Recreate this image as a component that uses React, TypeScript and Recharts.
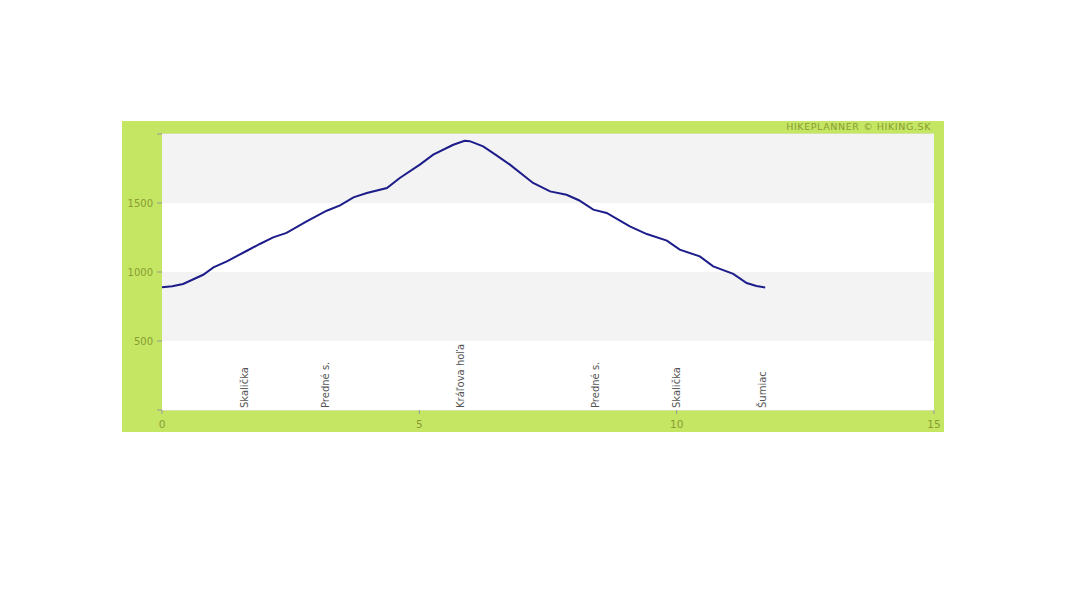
import React from "react";
import {
  LineChart,
  Line,
  XAxis,
  YAxis,
  CartesianGrid,
  ReferenceArea,
  ReferenceLine,
} from "recharts";

// distance along the route (km) and elevation (m)
const distanceKm = [
  0, 0.2, 0.41, 0.8, 1.0, 1.26, 1.65, 1.9, 2.16, 2.42, 2.81, 3.2, 3.46, 3.72,
  3.98, 4.37, 4.62, 5.01, 5.27, 5.66, 5.88, 5.98, 6.24, 6.5, 6.76, 7.21, 7.54,
  7.86, 8.1, 8.38, 8.64, 9.09, 9.42, 9.81, 10.06, 10.45, 10.71, 11.1, 11.36,
  11.55, 11.72,
];
const elevation = [
  890, 897, 913, 980, 1033, 1077, 1154, 1203, 1251, 1283, 1367, 1444, 1483,
  1541, 1572, 1609, 1681, 1778, 1850, 1922, 1951, 1948, 1910, 1845, 1778, 1645,
  1584, 1560, 1520, 1452, 1428, 1330, 1275, 1227, 1162, 1113, 1041, 986, 920,
  898, 888,
];

const waypointNames = ["Skalička", "Predné s.", "Kráľova hoľa", "Predné s.", "Skalička", "Šumiac"];
const waypointKm = [1.6, 3.17, 5.79, 8.41, 9.99, 11.66];

const xTicks = [0, 5, 10, 15];
const yTicks = [0, 500, 1000, 1500, 2000];

const GREEN = "#c4e663";
const OLIVE = "#8a9c33";
const FONT = "DejaVu Sans, sans-serif";

const data = distanceKm.map((km, i) => ({ km, ele: elevation[i] }));

function WaypointLabel({ viewBox, name }: any) {
  if (!viewBox) return null;
  const x = viewBox.x + 4;
  const y = viewBox.y + viewBox.height - 2;
  return (
    <text
      x={x}
      y={y}
      transform={`rotate(-90 ${x} ${y})`}
      fontSize={10}
      fontFamily={FONT}
      fill="#555"
      textAnchor="start"
    >
      {name}
    </text>
  );
}

export default function App() {
  return (
    <div
      style={{
        position: "absolute",
        left: 122,
        top: 121,
        width: 822,
        height: 311,
        background: GREEN,
      }}
    >
      <div
        style={{
          position: "absolute",
          right: 13,
          top: -1,
          fontFamily: FONT,
          fontSize: 9.5,
          letterSpacing: 0.6,
          color: OLIVE,
          lineHeight: "13px",
        }}
      >
        HIKEPLANNER © HIKING.SK
      </div>
      <LineChart
        width={822}
        height={311}
        data={data}
        margin={{ top: 13, right: 10, bottom: 0, left: 0 }}
      >
        <ReferenceArea y1={0} y2={2000} fill="#ffffff" fillOpacity={1} stroke="none" ifOverflow="hidden" />
        <ReferenceArea y1={1500} y2={2000} fill="#f3f3f3" fillOpacity={1} stroke="none" />
        <ReferenceArea y1={500} y2={1000} fill="#f3f3f3" fillOpacity={1} stroke="none" />
        <CartesianGrid vertical={false} stroke="#e3e3e3" />
        <XAxis
          dataKey="km"
          type="number"
          domain={[0, 15]}
          ticks={xTicks}
          height={22}
          axisLine={false}
          tickSize={4}
          tickMargin={7}
          tickLine={{ stroke: "#999" }}
          tick={{ fill: OLIVE, fontSize: 10.5, fontFamily: FONT }}
          interval={0}
        />
        <YAxis
          type="number"
          domain={[0, 2000]}
          ticks={yTicks}
          width={40}
          axisLine={false}
          tickSize={5}
          tickMargin={4}
          tickLine={{ stroke: "#999" }}
          tick={{ fill: OLIVE, fontSize: 10, fontFamily: FONT }}
          tickFormatter={(v: number) => (v === 0 || v === 2000 ? "" : String(v))}
          interval={0}
        />
        {waypointKm.map((km, i) => (
          <ReferenceLine
            key={i}
            x={km}
            stroke="none"
            label={<WaypointLabel name={waypointNames[i]} />}
          />
        ))}
        <Line
          type="linear"
          dataKey="ele"
          stroke="#1c1c8a"
          strokeWidth={2}
          dot={false}
          isAnimationActive={false}
        />
      </LineChart>
    </div>
  );
}
